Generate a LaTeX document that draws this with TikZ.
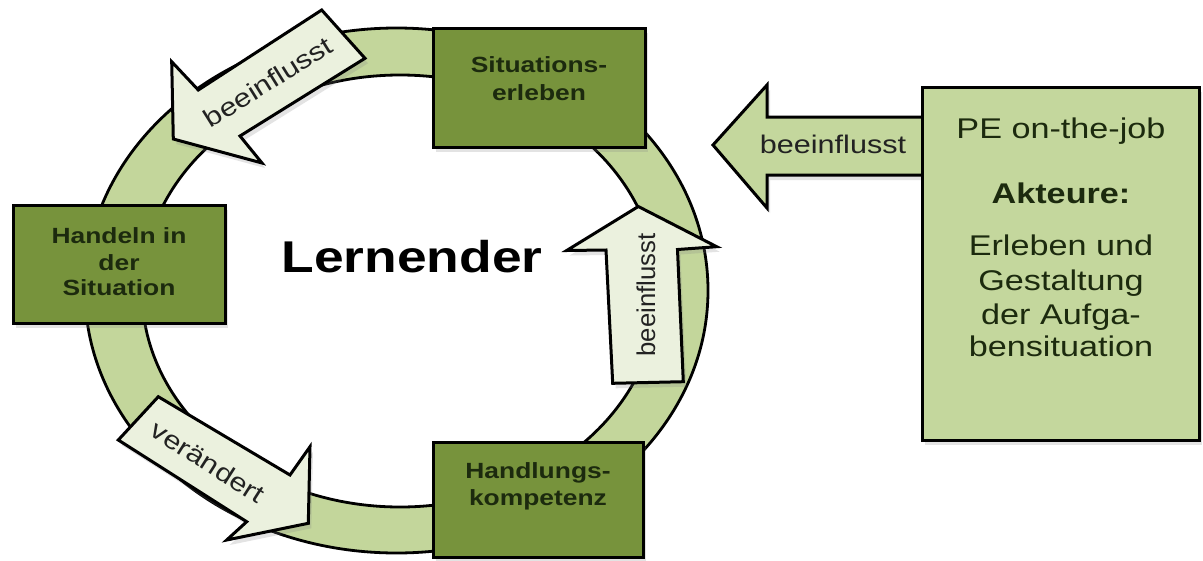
\documentclass[tikz,border=0pt]{standalone}
\usepackage{fontspec}
\setmainfont{Liberation Sans}[FakeStretch=1.2]
\newfontfamily\plainsans{Liberation Sans}
\usetikzlibrary{shadows}
\definecolor{ringgreen}{HTML}{C3D69B}
\definecolor{olivebox}{HTML}{77933C}
\definecolor{lightbox}{HTML}{C4D79D}
\definecolor{palearrow}{HTML}{EBF1DE}
\definecolor{boxtext}{HTML}{1C2A0E}
\definecolor{labeltext}{HTML}{222222}
\begin{document}
\begin{tikzpicture}[x=1pt,y=-1pt,
  softshadow/.style={drop shadow={opacity=0.22, shadow xshift=3pt, shadow yshift=-5pt}},
  darkbox/.style={draw=black, line width=3pt, fill=olivebox, softshadow, inner sep=0pt},
  lightpanel/.style={draw=black, line width=3pt, fill=lightbox, softshadow, inner sep=0pt},
  palearrowstyle/.style={draw=black, line width=3pt, fill=palearrow, line join=miter, softshadow},
  greenarrowstyle/.style={draw=black, line width=3pt, fill=lightbox, line join=miter, softshadow},
  boxlabel/.style={font=\bfseries\fontsize{22}{26}\selectfont, text=boxtext, anchor=base, inner sep=0pt},
  arrowlabel/.style={font=\fontsize{25.5}{30}\selectfont, text=labeltext, inner sep=0pt},
  panellabel/.style={font=\fontsize{28.5}{34}\selectfont, text=boxtext, anchor=base, inner sep=0pt}
]
\useasboundingbox (0,0) rectangle (1203,560);
\fill[white] (0,0) rectangle (1203,560);

% ring
\filldraw[fill=ringgreen, draw=black, line width=2.8pt, even odd rule]
  (396.5,290.5) ellipse [x radius=311.5pt, y radius=262.5pt]
  (400,291) ellipse [x radius=258pt, y radius=216pt];

% horizontal arrow (goes under the right panel)
\filldraw[greenarrowstyle] (713,145) -- (767,85) -- (767,117) -- (935,117) -- (935,175)
  -- (767,175) -- (767,208) -- cycle;

% boxes
\node[darkbox, minimum width=212pt, minimum height=119pt] (sit) at (539,87.5) {};
\node[darkbox, minimum width=212pt, minimum height=118pt] (hand) at (119,264) {};
\node[darkbox, minimum width=210pt, minimum height=115pt] (komp) at (538,499.5) {};
\node[lightpanel, minimum width=277pt, minimum height=353pt] (pe) at (1060.5,263.5) {};

% arrows on the ring
\filldraw[palearrowstyle] (173.3,139) -- (171.7,61.7) -- (198.3,90) -- (321.7,10) -- (365,58.3)
  -- (240,136) -- (262,163) -- cycle;
\filldraw[palearrowstyle] (158.3,396.7) -- (290,475) -- (310,446.7) -- (308.3,523.3)
  -- (226.7,540) -- (246.7,521.7) -- (118.3,440) -- cycle;
\filldraw[palearrowstyle] (638.3,206.5) -- (716.7,246.7) -- (677.5,249.5) -- (683.3,381.7)
  -- (612.7,383.3) -- (606,250) -- (566.7,250.5) -- cycle;

% labels
\node[boxlabel] (sit1) at (539,72) {Situations-};
\node[boxlabel] (sit2) at (539,100) {erleben};
\node[boxlabel] (hand1) at (119,243) {Handeln in};
\node[boxlabel] (hand2) at (119,270) {der};
\node[boxlabel] (hand3) at (119,295) {Situation};
\node[boxlabel] (komp1) at (538,478) {Handlungs-};
\node[boxlabel] (komp2) at (538,505) {kompetenz};

\node[font=\bfseries\fontsize{44.5}{50}\selectfont, text=black, anchor=base, inner sep=0pt]
  (lern) at (412,272) {Lernender};

\node[arrowlabel, rotate=32] (lab1) at (268,82) {beeinflusst};
\node[arrowlabel, rotate=-32.5] (lab2) at (208,462) {verändert};
\node[arrowlabel, font=\plainsans\fontsize{25.7}{30}\selectfont, rotate=90] (lab3) at (646,295) {beeinflusst};
\node[arrowlabel, anchor=base] (lab4) at (833,153) {beeinflusst};

\node[panellabel] (pe1) at (1061,138) {PE on-the-job};
\node[panellabel, font=\bfseries\fontsize{28.5}{34}\selectfont] (pe2) at (1061,203) {Akteure:};
\node[panellabel] (pe3) at (1061,255) {Erleben und};
\node[panellabel] (pe4) at (1061,290) {Gestaltung};
\node[panellabel] (pe5) at (1061,324) {der Aufga-};
\node[panellabel] (pe6) at (1061,356) {bensituation};
\end{tikzpicture}
\end{document}
